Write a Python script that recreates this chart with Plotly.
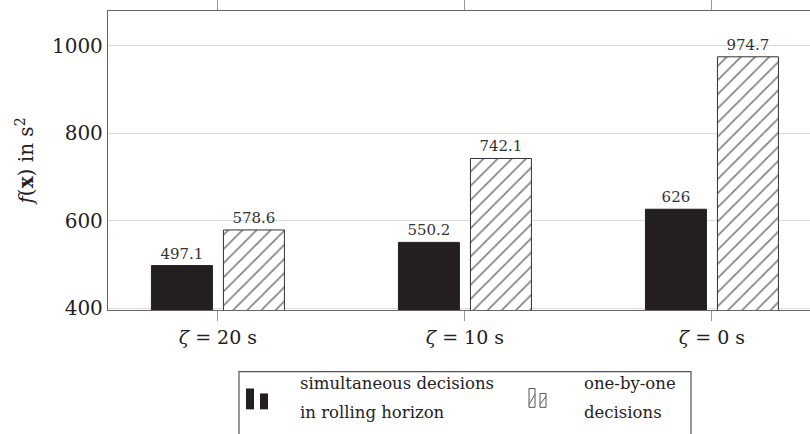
import plotly.graph_objects as go

# Objective value f(x) per buffer time zeta, for two decision strategies
categories = ["<i>ζ</i> = 20 s", "<i>ζ</i> = 10 s", "<i>ζ</i> = 0 s"]
simultaneous = [497.1, 550.2, 626]
one_by_one = [578.6, 742.1, 974.7]
y_ticks = [400, 600, 800, 1000]

W, H = 810, 434
L, R, T, B = 108, 0, 9, 124
FONT = "DejaVu Serif"
DARK = "#231f20"

x_pos = list(range(len(categories)))


def px(x):
    return (x - L) / (W - L - R)


def py(y):
    return (H - B - y) / (H - T - B)


fig = go.Figure()
fig.add_trace(go.Bar(
    x=x_pos, y=simultaneous, name="simultaneous decisions in rolling horizon",
    marker=dict(color=DARK, line=dict(color=DARK, width=1)),
    text=[f"{v:g}" for v in simultaneous], textposition="outside",
    textfont=dict(family=FONT, size=15, color="#333333"), cliponaxis=False,
))
fig.add_trace(go.Bar(
    x=x_pos, y=one_by_one, name="one-by-one decisions",
    marker=dict(color="white", line=dict(color="#333333", width=1),
                pattern=dict(shape="/", fgcolor="#000000", bgcolor="white",
                             size=10, solidity=0.16)),
    text=[f"{v:g}" for v in one_by_one], textposition="outside",
    textfont=dict(family=FONT, size=15, color="#333333"), cliponaxis=False,
))

fig.update_layout(
    width=W, height=H,
    margin=dict(l=L, r=R, t=T, b=B, pad=0),
    paper_bgcolor="white", plot_bgcolor="white",
    barmode="group", bargap=0.417, bargroupgap=0.153,
    showlegend=False,
    font=dict(family=FONT, color="#222222"),
    xaxis=dict(
        range=[-0.445, 2.397], tickmode="array", tickvals=x_pos, ticktext=categories,
        showline=True, linecolor="#666666", linewidth=1.3, mirror="ticks",
        ticks="outside", ticklen=10, tickcolor="#999999", tickwidth=1,
        showgrid=False, zeroline=False,
        tickfont=dict(family=FONT, size=19, color="#222222"),
    ),
    yaxis=dict(
        range=[395.5, 1079.5], tickmode="array", tickvals=y_ticks,
        showline=True, linecolor="#666666", linewidth=1.3, mirror=False,
        showgrid=True, gridcolor="#dcdcdc", gridwidth=1.2, zeroline=False,
        ticks="", tickfont=dict(family=FONT, size=20, color="#222222"),
        title=dict(text="<i>f</i>(<b>x</b>) in s<sup>2</sup>",
                   font=dict(family=FONT, size=20, color="#222222"), standoff=12),
    ),
)

# Legend drawn as a framed box below the axes
shapes = [
    dict(type="rect", xref="paper", yref="paper",
         x0=px(239), x1=px(691), y0=py(445), y1=py(372),
         line=dict(color="#555555", width=1.2), fillcolor="rgba(0,0,0,0)"),
    dict(type="rect", xref="paper", yref="paper",
         x0=px(246), x1=px(254), y0=py(410), y1=py(389),
         line=dict(width=0), fillcolor=DARK),
    dict(type="rect", xref="paper", yref="paper",
         x0=px(260), x1=px(268), y0=py(410), y1=py(394),
         line=dict(width=0), fillcolor=DARK),
    dict(type="rect", xref="paper", yref="paper",
         x0=px(529), x1=px(535), y0=py(408), y1=py(389),
         line=dict(color="#555555", width=1), fillcolor="white"),
    dict(type="line", xref="paper", yref="paper",
         x0=px(529), x1=px(535), y0=py(405), y1=py(395),
         line=dict(color="#555555", width=1)),
    dict(type="rect", xref="paper", yref="paper",
         x0=px(540), x1=px(546), y0=py(408), y1=py(394),
         line=dict(color="#555555", width=1), fillcolor="white"),
    dict(type="line", xref="paper", yref="paper",
         x0=px(540), x1=px(546), y0=py(405), y1=py(397),
         line=dict(color="#555555", width=1)),
]
fig.update_layout(shapes=shapes)

legend_lines = [
    (298, 384, "simultaneous decisions"),
    (298, 413, "in rolling horizon"),
    (582, 384, "one-by-one"),
    (582, 413, "decisions"),
]
for lx, ly, txt in legend_lines:
    fig.add_annotation(
        x=px(lx), y=py(ly), xref="paper", yref="paper", text=txt,
        showarrow=False, xanchor="left", yanchor="middle",
        font=dict(family=FONT, size=16.5, color="#222222"),
    )

fig.write_html("out.html")
